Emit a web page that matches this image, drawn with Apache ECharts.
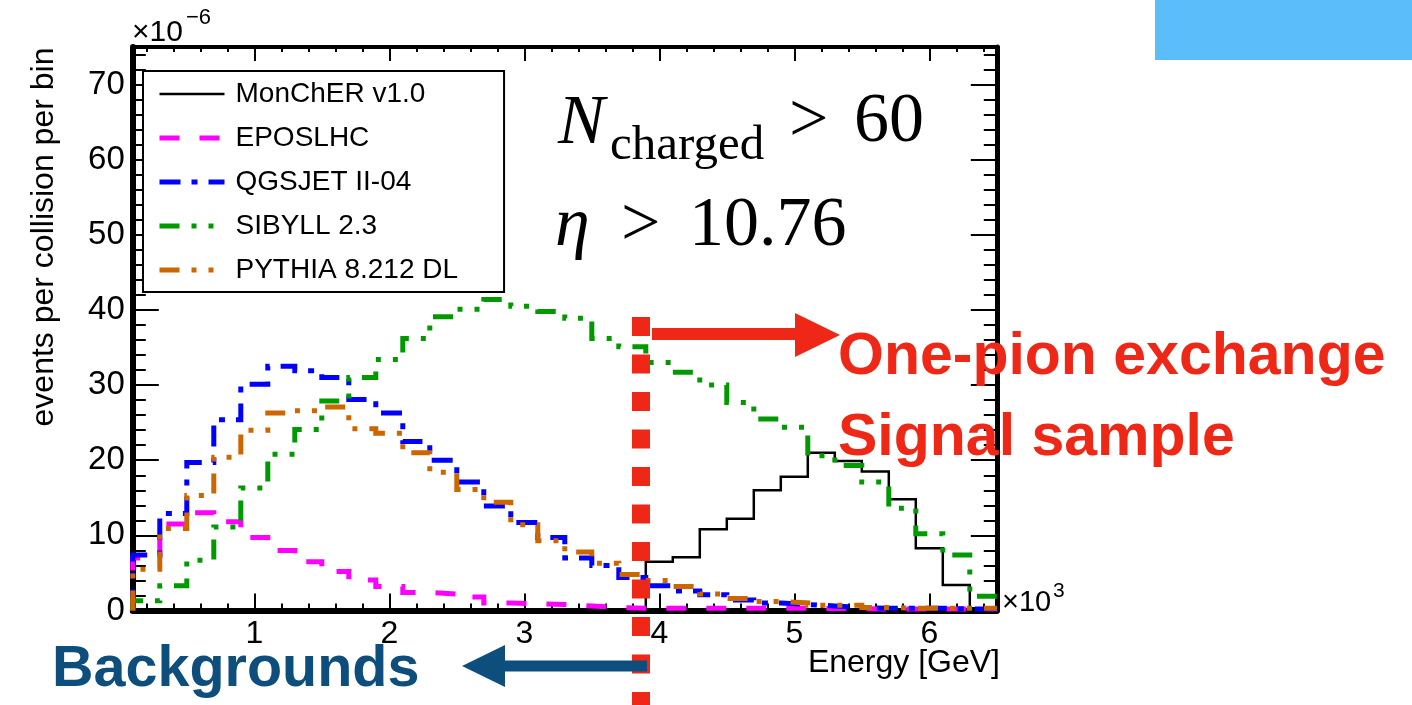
<!DOCTYPE html>
<html>
<head>
<meta charset="utf-8">
<script src="https://cdn.jsdelivr.net/npm/echarts@6/dist/echarts.min.js"></script>
<style>
html,body{margin:0;padding:0;background:#fff;}
#chart{width:1412px;height:705px;}
</style>
</head>
<body>
<div id="chart"></div>
<script>
// ---- data (energy bins of 200 GeV, values in units of 1e-6 events per collision per bin) ----
const binEdges = [100,300,500,700,900,1100,1300,1500,1700,1900,2100,2300,2500,2700,2900,3100,3300,3500,3700,3900,4100,4300,4500,4700,4900,5100,5300,5500,5700,5900,6100,6300,6500];
const monchER = [0,0,0,0,0,0,0,0,0,0,0,0,0,0,0,0,0,0,0,6.5,7.1,10.8,12.2,16.0,17.8,21.0,19.9,18.5,14.8,8.3,3.4,0.3];
const eposLHC = [7.0,11.5,13.0,11.8,9.7,8.0,6.5,5.2,4.05,3.2,2.4,2.2,1.8,1.0,0.9,0.8,0.6,0.4,0.3,0.3,0.3,0.3,0.3,0.3,0.3,0.25,0.25,0.2,0.2,0.2,0.2,0.2];
const qgsjet = [7.4,12.9,19.7,25.4,30.1,32.5,31.9,31.0,28.1,26.3,22.5,20.0,17.1,13.9,11.7,9.7,7.0,6.0,4.4,3.3,2.6,2.1,1.4,1.0,0.8,0.6,0.4,0.3,0.3,0.3,0.2,0.2];
const sibyll = [1.3,3.3,6.7,11.1,16.3,20.8,24.1,27.9,31.0,33.4,36.2,39.1,40.1,41.4,40.5,39.8,38.9,36.2,35.1,33.0,31.7,30.0,27.7,25.5,24.4,20.6,19.3,17.1,13.6,10.2,7.4,1.9];
const pythia = [5.5,10.9,15.3,20.4,24.0,26.3,26.6,27.1,24.2,23.6,21.0,18.4,16.1,14.4,11.4,9.3,7.8,6.3,4.8,4.0,3.2,2.2,1.6,1.2,1.0,0.7,0.7,0.4,0.3,0.3,0.3,0.3];
const seriesNames = ['MonChER v1.0','EPOSLHC','QGSJET II-04','SIBYLL 2.3','PYTHIA 8.212 DL'];
const xMajorTicks = [1000,2000,3000,4000,5000,6000];
const xMinorTicks = [200,400,600,800,1000,1200,1400,1600,1800,2000,2200,2400,2600,2800,3000,3200,3400,3600,3800,4000,4200,4400,4600,4800,5000,5200,5400,5600,5800,6000,6200,6400];
const yMajorTicks = [0,10,20,30,40,50,60,70];
const yMinorTicks = [0,2,4,6,8,10,12,14,16,18,20,22,24,26,28,30,32,34,36,38,40,42,44,46,48,50,52,54,56,58,60,62,64,66,68,70,72,74];

function hist(vals){
  const d = [[binEdges[0], 0]];
  for (let i = 0; i < vals.length; i++) d.push([binEdges[i], vals[i]]);
  d.push([binEdges[vals.length], vals[vals.length-1]]);
  return d;
}

const SANS = 'Liberation Sans';
const RED = '#EE2716';
const DBLUE = '#0D4E7C';

const chart = echarts.init(document.getElementById('chart'), null, {renderer:'canvas'});

function xAx(pos, ticks, len, lineW, labels){
  return {
    type:'value', min:100, max:6500, position:pos,
    axisLine:{show: lineW>0, onZero:false, lineStyle:{color:'#000', width:lineW}},
    axisTick:{show:true, inside:true, length:len, customValues:ticks, lineStyle:{color:'#000', width:2}},
    axisLabel: labels ? {show:true, customValues:xMajorTicks, formatter:v=>String(v/1000), fontSize:32, fontFamily:SANS, color:'#000', margin:8} : {show:false},
    splitLine:{show:false}
  };
}
function yAx(pos, ticks, len, lineW, labels){
  return {
    type:'value', min:0, max:75, position:pos,
    axisLine:{show: lineW>0, onZero:false, lineStyle:{color:'#000', width:lineW}},
    axisTick:{show:true, inside:true, length:len, customValues:ticks, lineStyle:{color:'#000', width:2}},
    axisLabel: labels ? {show:true, customValues:yMajorTicks, fontSize:33, fontFamily:SANS, color:'#000', margin:8} : {show:false},
    splitLine:{show:false}
  };
}

const styles = [
  {color:'#000000', width:2.5, type:'solid'},
  {color:'#FF00FF', width:5, type:[20,20]},
  {color:'#0000FF', width:5, type:[21,11,6,11]},
  {color:'#009900', width:5, type:[20,12,5,12,5,12]},
  {color:'#CC6600', width:5, type:[20,12,5,12,5,12]}
];
const allVals = [monchER, eposLHC, qgsjet, sibyll, pythia];

const option = {
  animation:false,
  backgroundColor:'#ffffff',
  grid:{left:132.8, right:415.2, top:47, bottom:94.5, containLabel:false},
  xAxis:[
    xAx('bottom', xMajorTicks, 17, 6, true),
    xAx('bottom', xMinorTicks, 7, 0, false),
    xAx('top', xMajorTicks, 14, 4, false),
    xAx('top', xMinorTicks, 5, 0, false)
  ],
  yAxis:[
    yAx('left', yMajorTicks, 26, 6, true),
    yAx('left', yMinorTicks, 13, 0, false),
    yAx('right', yMajorTicks, 26, 5, false),
    yAx('right', yMinorTicks, 13, 0, false)
  ],
  legend:{
    orient:'vertical', left:143, top:71,
    padding:[8,46,7,14], itemGap:14, itemWidth:65, itemHeight:14,
    borderColor:'#000', borderWidth:2, backgroundColor:'#fff',
    itemStyle:{opacity:0, borderWidth:0},
    textStyle:{fontSize:28, fontFamily:SANS, color:'#000', lineHeight:30, padding:[0,0,0,6]},
    data: seriesNames.map((n, i) => ({name:n, itemStyle:{opacity:0, borderWidth:0}, lineStyle:{width:styles[i].width, color:styles[i].color, type:styles[i].type}}))
  },
  series: allVals.map((vals, i) => ({
    name: seriesNames[i], type:'line', step:'end', symbol:'none', showSymbol:false,
    xAxisIndex:0, yAxisIndex:0, z: 2 + i*0.1,
    lineStyle:{color:styles[i].color, width:styles[i].width, type:styles[i].type, cap:'butt', join:'miter'},
    itemStyle:{color:styles[i].color},
    data: hist(vals)
  })),
  graphic:[
    {type:'rect', shape:{x:1155, y:0, width:257, height:60}, style:{fill:'#5BBEFA'}, z:10},
    {type:'text', x:44, y:237, rotation:Math.PI/2, style:{text:'events per collision per bin', font:'32px "Liberation Sans"', fill:'#000', align:'center', verticalAlign:'middle'}, z:10},
    {type:'text', x:1000, y:663, style:{text:'Energy [GeV]', font:'32px "Liberation Sans"', fill:'#000', align:'right', verticalAlign:'middle'}, z:10},
    {type:'text', x:1002, y:603, style:{text:'×10', font:'29px "Liberation Sans"', fill:'#000', align:'left', verticalAlign:'middle'}, z:10},
    {type:'text', x:1053, y:591, style:{text:'3', font:'21px "Liberation Sans"', fill:'#000', align:'left', verticalAlign:'middle'}, z:10},
    {type:'text', x:132, y:33, style:{text:'×10', font:'30px "Liberation Sans"', fill:'#000', align:'left', verticalAlign:'middle'}, z:10},
    {type:'text', x:186, y:18, style:{text:'−6', font:'22px "Liberation Sans"', fill:'#000', align:'left', verticalAlign:'middle'}, z:10},
    // LaTeX-like annotations
    {type:'text', x:558, y:125, style:{text:'N', font:'italic 70px "Liberation Serif"', fill:'#000', align:'left', verticalAlign:'middle'}, z:10},
    {type:'text', x:610, y:146, style:{text:'charged', font:'49px "Liberation Serif"', fill:'#000', align:'left', verticalAlign:'middle'}, z:10},
    {type:'text', x:789, y:123, style:{text:'>', font:'70px "Liberation Serif"', fill:'#000', align:'left', verticalAlign:'middle'}, z:10},
    {type:'text', x:854, y:123, style:{text:'60', font:'70px "Liberation Serif"', fill:'#000', align:'left', verticalAlign:'middle'}, z:10},
    {type:'text', x:555, y:227, style:{text:'η', font:'italic 70px "Liberation Serif"', fill:'#000', align:'left', verticalAlign:'middle'}, z:10},
    {type:'text', x:621, y:227, style:{text:'>', font:'70px "Liberation Serif"', fill:'#000', align:'left', verticalAlign:'middle'}, z:10},
    {type:'text', x:689, y:227, style:{text:'10.76', font:'70px "Liberation Serif"', fill:'#000', align:'left', verticalAlign:'middle'}, z:10},
    // signal / background overlay
    {type:'line', shape:{x1:641, y1:317, x2:641, y2:705}, style:{stroke:RED, lineWidth:18, lineDash:[19,18.5]}, z:20},
    {type:'line', shape:{x1:652, y1:334, x2:800, y2:334}, style:{stroke:RED, lineWidth:12}, z:20},
    {type:'polygon', shape:{points:[[795,313],[840,335],[795,357]]}, style:{fill:RED}, z:20},
    {type:'text', x:838, y:358, style:{text:'One-pion exchange', font:'bold 59px "Liberation Sans"', fill:RED, align:'left', verticalAlign:'middle'}, z:20},
    {type:'text', x:838, y:439, style:{text:'Signal sample', font:'bold 59px "Liberation Sans"', fill:RED, align:'left', verticalAlign:'middle'}, z:20},
    {type:'line', shape:{x1:500, y1:666, x2:647, y2:666}, style:{stroke:DBLUE, lineWidth:11}, z:20},
    {type:'polygon', shape:{points:[[462,666],[505,645],[505,687]]}, style:{fill:DBLUE}, z:20},
    {type:'text', x:52, y:670, style:{text:'Backgrounds', font:'bold 57.5px "Liberation Sans"', fill:DBLUE, align:'left', verticalAlign:'middle'}, z:20}
  ]
};
chart.setOption(option);
</script>
</body>
</html>
